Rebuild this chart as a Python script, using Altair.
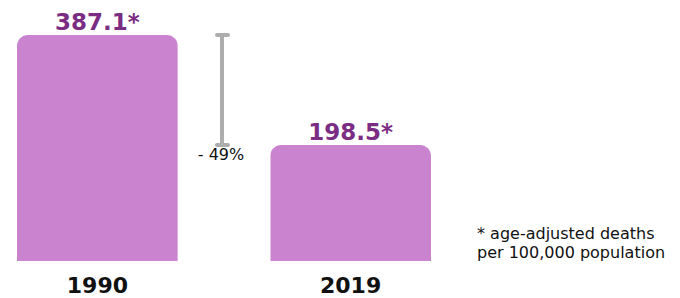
import altair as alt
import pandas as pd

years = ["1990", "2019"]
rates = [387.1, 198.5]
value_labels = ["387.1*", "198.5*"]
footnote_lines = ["* age-adjusted deaths", "per 100,000 population"]

change = round((rates[1] - rates[0]) / rates[0] * 100)
change_label = f"- {abs(change)}%"

df = pd.DataFrame({"year": years, "rate": rates, "label": value_labels})
bracket = pd.DataFrame({"top": [rates[0]], "bottom": [rates[1]], "label": [change_label]})
note = pd.DataFrame({"n": [0]})

FONT = "DejaVu Sans"
BAR = "#C983CF"
PURPLE = "#7B2D83"
GREY = "#ADADAD"
INK = "#111111"

x = alt.X("year:N", sort=years, axis=None,
          scale=alt.Scale(type="band", range=[9, 423], paddingInner=0.365, paddingOuter=0))
y_scale = alt.Scale(domain=[0, 433.35], range=[253, 0])

base = alt.Chart(df)

bars = base.mark_bar(color=BAR, cornerRadiusTopLeft=11, cornerRadiusTopRight=11).encode(
    x=x, y=alt.Y("rate:Q", scale=y_scale, axis=None)
)

vals = base.mark_text(font=FONT, fontSize=23, fontWeight="bold", color=PURPLE,
                      baseline="alphabetic", dy=-5.5).encode(
    x=x, y=alt.Y("rate:Q", scale=y_scale), text="label:N"
)

yrs = base.mark_text(font=FONT, fontSize=22, fontWeight="bold", color=INK,
                     baseline="alphabetic", dy=31.5).encode(
    x=x, y=alt.datum(0, scale=y_scale), text="year:N"
)

bch = alt.Chart(bracket)
vline = bch.mark_rule(color=GREY, strokeWidth=4).encode(
    x=alt.value(214), y=alt.Y("top:Q", scale=y_scale), y2="bottom:Q"
)
cap_top = bch.mark_rule(color=GREY, strokeWidth=4, strokeCap="round").encode(
    x=alt.value(209), x2=alt.value(220), y=alt.Y("top:Q", scale=y_scale)
)
cap_bot = bch.mark_rule(color=GREY, strokeWidth=4, strokeCap="round").encode(
    x=alt.value(209), x2=alt.value(220), y=alt.Y("bottom:Q", scale=y_scale)
)
pct = bch.mark_text(font=FONT, fontSize=16, color=INK, baseline="alphabetic", dy=15).encode(
    x=alt.value(213), y=alt.Y("bottom:Q", scale=y_scale), text="label:N"
)

foot = alt.Chart(note).mark_text(font=FONT, fontSize=16, color=INK, align="left",
                                 baseline="alphabetic", lineHeight=19,
                                 text=footnote_lines).encode(
    x=alt.value(469), y=alt.value(231)
)

chart = alt.layer(bars, vals, yrs, vline, cap_top, cap_bot, pct, foot).properties(
    width=664, height=290, padding=0, background="white",
    autosize=alt.AutoSizeParams(type="none")
).configure_view(stroke=None, strokeWidth=0)

chart.save("out.html", embed_options={"renderer": "svg", "actions": False})
